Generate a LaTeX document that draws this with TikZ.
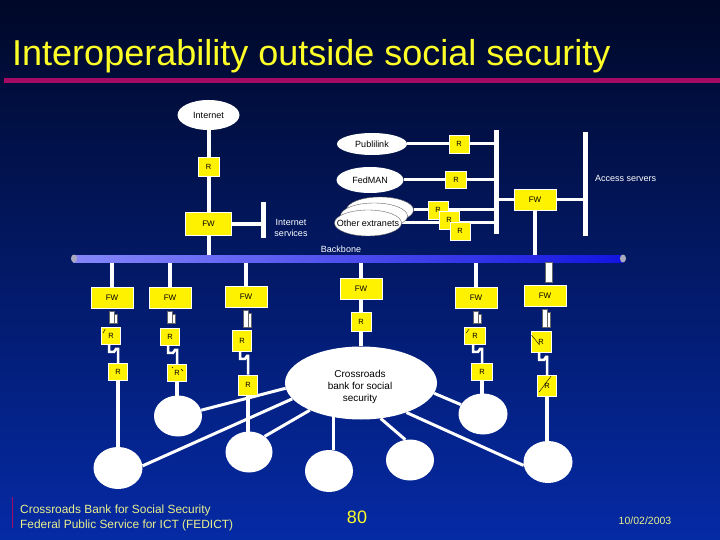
\documentclass[tikz,border=0pt]{standalone}
\usepackage{fontspec}
\setmainfont{Liberation Sans}
\usetikzlibrary{shapes.geometric,calc}
\pgfdeclarelayer{bgl}
\pgfdeclarelayer{wirel}
\pgfsetlayers{bgl,wirel,main}
\definecolor{titleyel}{RGB}{255,255,40}
\definecolor{magbar}{RGB}{165,10,100}
\definecolor{footyel}{RGB}{232,240,140}
\definecolor{bgtop}{RGB}{0,8,40}
\definecolor{bgbot}{RGB}{5,42,165}
\definecolor{bbleft}{RGB}{135,135,250}
\definecolor{bbright}{RGB}{20,20,225}
\definecolor{capgray}{RGB}{170,170,190}
\newcommand\mkzig[2]{\draw[zz] ([xshift=-2pt]#1.south) -- ++(0,7) -- ++(5,0) -- ++(2,-3) coordinate (zt) -- (zt -| #2.north) -- (#2.north);}
\newcommand\mkstub[2]{%
  \filldraw[stubst] ([shift={(-3,2)}]#1.south) rectangle ++(5,#2);
  \filldraw[stubst] ([shift={(2.5,5)}]#1.south) rectangle ++(2.5,#2-3);}
\begin{document}
\begin{tikzpicture}[x=1pt,y=-1pt,
  fwbox/.style={draw=white, line width=0.8pt, fill=yellow, minimum width=42pt, minimum height=21pt, inner sep=0pt, font=\fontsize{8}{9}\selectfont, text=black},
  rbox/.style={draw=white, line width=0.8pt, fill=yellow, minimum width=20pt, minimum height=18pt, inner sep=0pt, font=\fontsize{7.5}{9}\selectfont, text=black},
  blob/.style={ellipse, fill=white, inner sep=0pt},
  blobtxt/.style={text=black, font=\fontsize{9}{10.5}\selectfont, inner sep=0pt, align=center},
  lbl/.style={text=white, font=\fontsize{9}{11}\selectfont, inner sep=0pt, align=center},
  wire/.style={white, line width=4pt},
  tline/.style={white, line width=3pt},
  busline/.style={white, line width=5pt},
  zz/.style={white, line width=2.5pt, line join=miter},
  stubst/.style={fill=white, draw=black!60, line width=0.3pt},
  rmark/.style={black, line width=0.4pt}
]
\useasboundingbox (0,0) rectangle (720,540);
\begin{pgfonlayer}{bgl}
\fill[top color=bgtop, bottom color=bgbot] (0,0) rectangle (720,540);
\end{pgfonlayer}

% title
\node[anchor=base west, text=titleyel, font=\fontsize{36}{40}\selectfont, inner sep=0pt] (title) at (12,66) {Interoperability outside social security};
\fill[magbar] (4,78) rectangle (720,83);

% top part
\node[blob, minimum width=62pt, minimum height=30pt] (inet) at (208.5,115) {};
\node[blobtxt] (inettxt) at (inet) {Internet};
\node[rbox, minimum width=21pt, minimum height=19pt] (rtop) at (208.5,167) {R};
\node[fwbox, minimum width=46pt, minimum height=23pt] (fwtop) at (208.5,224) {FW};
\coordinate (svct) at (263,202);
\coordinate (svcb) at (263,238);
\node[lbl] (svctxt) at (291,227.5) {Internet\\services};

\node[blob, minimum width=70pt, minimum height=22pt] (publi) at (372,144) {};
\node[blobtxt] (publitxt) at (publi) {Publilink};
\node[blob, minimum width=67pt, minimum height=26pt] (fed) at (370,180) {};
\node[blobtxt] (fedtxt) at (fed) {FedMAN};
\node[blob, draw=black!60, line width=0.4pt, minimum width=67pt, minimum height=26pt] (ex3) at (380,210) {};
\node[blob, draw=black!60, line width=0.4pt, minimum width=67pt, minimum height=26pt] (ex2) at (374,216) {};
\node[blob, draw=black!60, line width=0.4pt, minimum width=67pt, minimum height=26pt] (ex1) at (368,223) {};
\node[blobtxt] (extxt) at (ex1) {Other extranets};

\node[rbox] (rpub) at (459,144) {R};
\node[rbox, minimum width=21pt, minimum height=17pt] (rfed) at (456,180) {R};
\node[rbox] (rx1) at (438,210) {R};
\node[rbox] (rx2) at (449,220) {R};
\node[rbox] (rx3) at (460,231) {R};
\coordinate (b1t) at (496.5,130);
\coordinate (b1b) at (496.5,234);
\node[fwbox] (fwr) at (535,199.5) {FW};
\coordinate (act) at (585.5,132);
\coordinate (acb) at (585.5,236);
\node[lbl, anchor=west] (actxt) at (595,178) {Access servers};

% backbone
\node[minimum width=550pt, minimum height=7pt, inner sep=0pt, left color=bbleft, right color=bbright] (bb) at (348,258.5) {};
\node[ellipse, fill=capgray, minimum width=6pt, minimum height=8pt, inner sep=0pt] (capl) at (74,258.5) {};
\node[ellipse, fill=capgray, minimum width=6pt, minimum height=8pt, inner sep=0pt] (capr) at (623,258.5) {};
\node[lbl] (bbtxt) at (341,249.5) {Backbone};

% lower columns
\node[fwbox] (fw1) at (112,298) {FW};
\node[rbox, minimum width=19pt, minimum height=17pt] (r1a) at (111,336) {R};
\node[rbox, minimum width=19pt, minimum height=17pt] (r1b) at (118,372) {R};
\node[blob, minimum width=49pt, minimum height=42pt] (c1) at (118,468) {};

\node[fwbox] (fw2) at (170,298) {FW};
\node[rbox, minimum width=19pt, minimum height=17pt] (r2a) at (170,337) {R};
\node[rbox, minimum width=19pt, minimum height=17pt] (r2b) at (177,373) {R};
\node[blob, minimum width=48pt, minimum height=41pt] (c2) at (178,416) {};

\node[fwbox] (fw3) at (246,297) {FW};
\node[rbox, minimum width=19pt, minimum height=21pt] (r3a) at (242,341) {R};
\node[rbox, minimum width=19pt, minimum height=20pt] (r3b) at (248,385) {R};
\node[blob, minimum width=47pt, minimum height=41pt] (c3) at (249,452) {};

\node[fwbox] (fw4) at (361,289) {FW};
\node[rbox, minimum width=20pt, minimum height=19pt] (r4) at (361,322) {R};
\node[blob, minimum width=152pt, minimum height=73pt] (cross) at (361,383) {};
\node[blobtxt, font=\fontsize{10}{12}\selectfont] (crosstxt) at (360,386.5) {Crossroads\\bank for social\\security};

\node[fwbox] (fw5) at (476,298) {FW};
\node[rbox, minimum width=21pt, minimum height=17pt] (r5a) at (475,336) {R};
\node[rbox, minimum width=21pt, minimum height=17pt] (r5b) at (482,372) {R};
\node[blob, minimum width=49pt, minimum height=41pt] (c5) at (483,414) {};

\node[fwbox] (fw6) at (545,296) {FW};
\node[rbox, minimum width=20pt, minimum height=21pt] (r6a) at (541,342) {R};
\node[rbox, minimum width=19pt, minimum height=21pt] (r6b) at (547,386) {R};
\node[blob, minimum width=49pt, minimum height=42pt] (c6) at (548,462) {};

\node[blob, minimum width=48pt, minimum height=42pt] (ca) at (329,471) {};
\node[blob, minimum width=48pt, minimum height=41pt] (cb) at (410,460) {};

% small marks in routers
\draw[rmark] ([shift={(2,6)}]r1a.north west) -- ++(2,-4);
\draw[rmark] ([shift={(2,6)}]r5a.north west) -- ++(3,-4);
\draw[rmark] ([shift={(1,4)}]r6a.north west) -- ++(8,10);
\draw[rmark] ([shift={(2,17)}]r6b.north west) -- ++(12,-16);
\draw[rmark] ([shift={(5,3)}]r2b.north west) -- ++(1,1);
\draw[rmark] ([shift={(14,5)}]r2b.north west) -- ++(2,2);

% stubs
\mkstub{fw1}{12}
\mkstub{fw2}{12}
\mkstub{fw3}{17}
\mkstub{fw5}{12}
\mkstub{fw6}{18}
\filldraw[stubst] ([shift={(0,-3)}]fw6.north) rectangle ++(7,-20);

\begin{pgfonlayer}{wirel}
  % top
  \draw[wire] (inet) -- (rtop) -- (fwtop) -- (fwtop |- bb.center);
  \draw[wire] (fwtop.east) -- (fwtop.east -| svct);
  \draw[busline] (svct) -- (svcb);
  \draw[tline] (publi.east) -- (rpub) -- (publi.east -| b1t);
  \draw[tline] (fed.east) -- (rfed) -- (fed.east -| b1t);
  \draw[tline] (ex3.east) -- (ex3.east -| b1t);
  \draw[tline] (ex1.east) -- (ex1.east -| b1t);
  \draw[busline] (b1t) -- (b1b);
  \draw[tline] (fwr.west -| b1t) -- (fwr.west);
  \draw[tline] (fwr.east) -- (fwr.east -| act);
  \draw[busline] (act) -- (acb);
  \draw[wire] (fwr.south) -- (fwr.south |- bb.center);
  % columns
  \draw[wire] (fw1.north) -- (fw1.north |- bb.center);
  \draw[wire] (fw2.north) -- (fw2.north |- bb.center);
  \draw[wire] (fw3.north) -- (fw3.north |- bb.center);
  \draw[wire] (fw4.north) -- (fw4.north |- bb.center);
  \draw[wire] (fw5.north) -- (fw5.north |- bb.center);
  \draw[wire] (fw4) -- (r4) -- (cross);
  \draw[wire] (r1b.south) -- (r1b.south |- c1.center);
  \draw[wire] (r2b.south) -- (r2b.south |- c2.center);
  \draw[wire] (r3b.south) -- (r3b.south |- c3.center);
  \draw[wire] (r5b.south) -- (r5b.south |- c5.center);
  \draw[wire] (r6b.south) -- (r6b.south |- c6.center);
  % crossroads links
  \draw[tline] (cross.184) -- (c2.14);
  \draw[tline] (cross.193) -- (c1.5);
  \draw[tline] (cross.208) -- (c3.45);
  \draw[tline] ([xshift=4pt]ca.north) -- ([xshift=4pt]ca.north |- cross.center);
  \draw[tline] (cross.299) -- (cb.103);
  \draw[tline] (cross.352) -- (c5.157);
  \draw[tline] (cross.327) -- (c6.188);
\end{pgfonlayer}
% lightning links
\mkzig{r1a}{r1b}
\mkzig{r2a}{r2b}
\mkzig{r3a}{r3b}
\mkzig{r5a}{r5b}
\mkzig{r6a}{r6b}

% footer
\draw[magbar, line width=1pt] (12,497) -- (12,528);
\node[anchor=base west, text=footyel, font=\fontsize{11.9}{14}\selectfont, inner sep=0pt] (foot1) at (20,513) {Crossroads Bank for Social Security};
\node[anchor=base west, text=footyel, font=\fontsize{11.9}{14}\selectfont, inner sep=0pt] (foot2) at (20,528) {Federal Public Service for ICT (FEDICT)};
\node[text=titleyel, font=\fontsize{18}{20}\selectfont, inner sep=0pt] (pagenum) at (357,517) {80};
\node[text=footyel, font=\fontsize{10.5}{12}\selectfont, inner sep=0pt] (date) at (645,521) {10/02/2003};
\end{tikzpicture}
\end{document}
